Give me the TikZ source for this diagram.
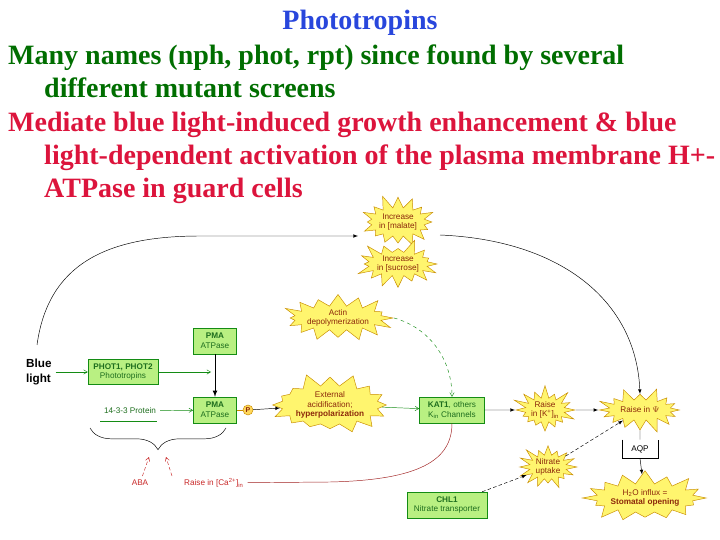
\documentclass[tikz,border=0pt]{standalone}
\usepackage{fontspec}
\setmainfont{Liberation Serif}
\newfontfamily\arialfont{Liberation Sans}
\usepackage{tikz}
\usetikzlibrary{arrows,calc,shapes.symbols,decorations.pathreplacing}

\definecolor{titleblue}{RGB}{40,70,220}
\definecolor{namegreen}{RGB}{0,110,0}
\definecolor{mediatered}{RGB}{220,20,60}
\definecolor{boxfill}{RGB}{185,240,130}
\definecolor{boxline}{RGB}{20,140,20}
\definecolor{boxtext}{RGB}{30,110,30}
\definecolor{burstfill}{RGB}{255,245,110}
\definecolor{burstline}{RGB}{200,140,0}
\definecolor{bursttext}{RGB}{140,40,10}
\definecolor{cared}{RGB}{200,40,40}
\definecolor{pfill}{RGB}{255,215,90}

\begin{document}
\begin{tikzpicture}
	[x=0.03cm,y=-0.03cm,
	 heading/.style={anchor=base west,inner sep=0pt,font=\fontsize{23.9}{28}\selectfont\bfseries},
	 greenbox/.style={draw=boxline,fill=boxfill,align=center,inner sep=1pt,
	   text=boxtext,font=\arialfont\fontsize{7}{8.5}\selectfont},
	 burst/.style={starburst,draw=burstline,fill=burstfill,starburst points=16,
	   starburst point height=0.42cm,inner sep=0pt,align=center,text=bursttext,
	   font=\arialfont\fontsize{7}{8}\selectfont},
	 small/.style={font=\arialfont\fontsize{7}{8.5}\selectfont},
	 solid/.style={->,>=latex,black},
	 soft/.style={->,>=angle 60,boxline},
	 dotty/.style={->,>=latex,black,densely dashed,thin}]
	\useasboundingbox (0,0) rectangle (720,540);

	% heading lines
	\node[heading,text=titleblue,anchor=base] (title) at (360,30) {Phototropins};
	\node[heading,text=namegreen] (l1) at (8,65) {Many names (nph, phot, rpt) since found by several};
	\node[heading,text=namegreen] (l2) at (44,98) {different mutant screens};
	\node[heading,text=mediatered] (l3) at (8,132) {Mediate blue light-induced growth enhancement \& blue};
	\node[heading,text=mediatered] (l4) at (44,165) {light-dependent activation of the plasma membrane H+-};
	\node[heading,text=mediatered] (l5) at (44,198) {ATPase in guard cells};

	%
	% upper part
	%
	\node[burst,random starburst=11,minimum width=2.4cm,minimum height=1.7cm] (malate) at (398,222) {Increase\\in [malate]};
	\node[burst,random starburst=23,minimum width=2.4cm,minimum height=1.55cm] (sucrose) at (398,264) {Increase\\in [sucrose]};
	\node[burst,random starburst=37,minimum width=3.2cm,minimum height=1.5cm] (actin) at (338,318) {Actin\\depolymerization};

	% boxes on the left
	\node[greenbox,minimum width=1.3cm,minimum height=0.78cm] (pmatop) at (215,341) {\textbf{PMA}\\ATPase};
	\node[anchor=west,align=left,font=\arialfont\bfseries\fontsize{10}{12}\selectfont] (blue) at (22,372) {Blue\\light};
	\node[greenbox,minimum width=2.1cm,minimum height=0.75cm] (phot) at (123,372) {\textbf{PHOT1, PHOT2}\\Phototropins};
	\node[greenbox,minimum width=1.3cm,minimum height=0.78cm] (pmabot) at (215,410) {\textbf{PMA}\\ATPase};
	\node[circle,draw=burstline,fill=pfill,inner sep=0pt,minimum size=0.3cm,
	  text=bursttext,font=\arialfont\bfseries\fontsize{6}{6}\selectfont] (pcirc) at (248,410) {P};
	\node[small,text=boxtext] (prot) at (130,411) {14-3-3 Protein};

	% middle row
	\node[burst,random starburst=5,minimum width=3cm,minimum height=2cm] (acid) at (330,405) {External\\acidification;\\\textbf{hyperpolarization}};
	\node[greenbox,minimum width=1.95cm,minimum height=0.78cm] (kat) at (452,410) {\textbf{KAT1}, others\\K\textsubscript{in} Channels};
	\node[burst,random starburst=17,minimum width=1.95cm,minimum height=1.5cm] (raisek) at (545,410) {Raise\\in [K\textsuperscript{+}]\textsubscript{in}};
	\node[burst,random starburst=29,minimum width=2.7cm,minimum height=1.45cm] (raisepsi) at (640,410) {Raise in $\Psi$};

	% lower right
	\node[small,minimum width=1.05cm,minimum height=0.55cm] (aqp) at (640,449) {AQP};
	\node[burst,random starburst=41,minimum width=1.95cm,minimum height=1.5cm] (nitrate) at (548,467) {Nitrate\\uptake};
	\node[burst,random starburst=53,minimum width=3.05cm,minimum height=1.7cm] (water) at (645,498) {H\textsubscript{2}O influx =\\\textbf{Stomatal opening}};
	\node[greenbox,minimum width=2.4cm,minimum height=0.78cm] (chl) at (447,505) {\textbf{CHL1}\\Nitrate transporter};

	% signals below
	\node[small,text=cared] (aba) at (140,483) {ABA};
	\node[small,text=cared,anchor=west] (ca) at (180,483) {Raise in [Ca\textsuperscript{2+}]\textsubscript{in}};

	% helper points
	\coordinate (arcstart) at (37,345);
	\coordinate (arcend) at (358,236);
	\coordinate (psistart) at (440,235);
	\coordinate (photend) at (211,372);
	\coordinate (ulstart) at (100,421);
	\coordinate (ulend) at (157,421);
	\coordinate (bracel) at (90,428);
	\coordinate (bracer) at (226,428);
	\coordinate (tipaba) at (149,457);
	\coordinate (tipca) at (166,457);
	\coordinate (castem) at (172,476);
	\coordinate (cabend) at (330,482);

	%
	% connectors
	%
	\draw[solid,thin] (arcstart) .. controls (48,265) and (105,236) .. (200,236) -- (arcend);
	\draw[solid,thin] (psistart) .. controls (560,240) and (636,300) .. (raisepsi.north);
	\draw[soft] (blue) -- (phot);
	\draw[soft] (phot) -- (photend);
	\draw[soft] (prot) -- (pmabot);
	\draw[boxline] (ulstart) -- (ulend);
	\draw[solid,thick] (pmatop) -- (pmabot);
	\draw[burstline] (pmabot) -- (pcirc);
	\draw[solid] (pcirc) -- (acid);
	\draw[soft] (acid) -- (kat);
	\draw[soft,dashed] (actin.east) .. controls (430,328) and (452,360) .. (kat.north);
	\draw[solid] (kat) -- (raisek);
	\draw[solid] (raisek) -- (raisepsi);
	\draw (raisepsi) -- (aqp.north);
	\draw (aqp.north west) -- (aqp.south west) -- (aqp.south east) -- (aqp.north east);
	\draw[solid] (aqp.south) -- (water);
	\draw[dotty] (nitrate) -- (raisepsi);
	\draw[dotty] (chl) -- (nitrate);

	% brace and the red signals
	\draw[decorate,decoration={brace,mirror,amplitude=0.65cm}] (bracel) -- (bracer);
	\draw[->,>=angle 60,cared,densely dashed] (aba) -- (tipaba);
	\draw[->,>=angle 60,cared,densely dashed] (castem) -- (tipca);
	\draw[cared!80!black] (ca) -- (cabend) .. controls (420,480) and (452,460) .. (kat.south);
\end{tikzpicture}
\end{document}
